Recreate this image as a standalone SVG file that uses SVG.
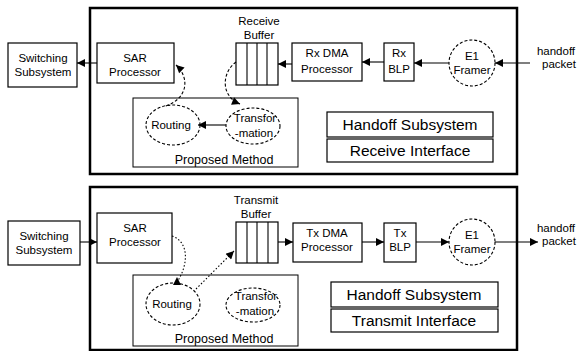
<svg xmlns="http://www.w3.org/2000/svg" width="577" height="351" viewBox="0 0 577 351">
<defs>
<marker id="ah" viewBox="0 0 10 10" refX="10" refY="5" markerWidth="9" markerHeight="8" markerUnits="userSpaceOnUse" orient="auto"><path d="M0,0 L10,5 L0,10 z" fill="#000"/></marker>
</defs>
<style>
text{font-family:"Liberation Sans",Arial,sans-serif;fill:#000;text-anchor:middle}
.s{font-size:11.5px}
.m{font-size:12.5px}
.l{font-size:15.5px}
.box{fill:#fff;stroke:#000;stroke-width:1.2}
.outer{fill:none;stroke:#000;stroke-width:2.5}
.pm{fill:none;stroke:#000;stroke-width:1}
.dash{fill:#fff;stroke:#000;stroke-width:1.1;stroke-dasharray:3 2}
.arr{fill:none;stroke:#000;stroke-width:1.1;marker-end:url(#ah)}
.darr{fill:none;stroke:#000;stroke-width:1.1;stroke-dasharray:3 2;marker-end:url(#ah)}
.dot{fill:none;stroke:#000;stroke-width:1.1;stroke-dasharray:1.5 2;marker-end:url(#ah)}
.div{stroke:#000;stroke-width:1.1}
</style>

<!-- TOP PANEL: Receive -->
<g id="rx-panel"><rect class="outer" x="90" y="8" width="427" height="166"/></g>
<g id="rx-proposed"><rect class="pm" x="133" y="98" width="165" height="69"/><text class="m" x="224" y="164">Proposed Method</text></g>
<g id="rx-switching"><rect class="box" x="8" y="43" width="69" height="44"/><text class="s" x="43" y="62">Switching</text><text class="s" x="43" y="76">Subsystem</text></g>
<g id="rx-sar"><rect class="box" x="97" y="43" width="77" height="40"/><text class="s" x="135" y="62">SAR</text><text class="s" x="135" y="76">Processor</text></g>
<g id="rx-buffer"><rect class="box" x="236" y="43" width="42" height="42"/><line class="div" x1="247" y1="43" x2="247" y2="85"/><line class="div" x1="257" y1="43" x2="257" y2="85"/><line class="div" x1="267" y1="43" x2="267" y2="85"/><text class="s" x="259" y="25">Receive</text><text class="s" x="259" y="39">Buffer</text></g>
<g id="rx-dma"><rect class="box" x="292" y="43" width="70" height="38"/><text class="s" x="327" y="57">Rx DMA</text><text class="s" x="327" y="73">Processor</text></g>
<g id="rx-blp"><rect class="box" x="384" y="43" width="30" height="38"/><text class="s" x="399" y="57">Rx</text><text class="s" x="399" y="73">BLP</text></g>
<g id="rx-e1"><circle class="dash" cx="472" cy="63" r="23"/><text class="s" x="472" y="60">E1</text><text class="s" x="472" y="74">Framer</text></g>
<g id="rx-routing"><ellipse class="dash" cx="173" cy="125" rx="27" ry="20"/><text class="s" x="171" y="129">Routing</text></g>
<g id="rx-transform"><ellipse class="dash" cx="253" cy="126" rx="27" ry="18"/><text class="s" x="255" y="122">Transfor</text><text class="s" x="254" y="137">-mation</text></g>
<g id="rx-handoff"><rect class="box" x="327" y="112" width="166" height="25"/><rect class="box" x="327" y="139" width="166" height="23"/><text class="l" x="410" y="130">Handoff Subsystem</text><text class="l" x="410" y="156">Receive Interface</text></g>
<g id="rx-packet"><text class="s" x="556" y="55">handoff</text><text class="s" x="559" y="68">packet</text></g>

<!-- BOTTOM PANEL: Transmit -->
<g id="tx-panel"><rect class="outer" x="90" y="187" width="427" height="163"/></g>
<g id="tx-proposed"><rect class="pm" x="133" y="275" width="165" height="71"/><text class="m" x="224" y="343">Proposed Method</text></g>
<g id="tx-switching"><rect class="box" x="8" y="221" width="72" height="44"/><text class="s" x="44" y="240">Switching</text><text class="s" x="44" y="254">Subsystem</text></g>
<g id="tx-sar"><rect class="box" x="97" y="213" width="75" height="50"/><text class="s" x="135" y="232">SAR</text><text class="s" x="135" y="246">Processor</text></g>
<g id="tx-buffer"><rect class="box" x="236" y="222" width="42" height="41"/><line class="div" x1="247" y1="222" x2="247" y2="263"/><line class="div" x1="257" y1="222" x2="257" y2="263"/><line class="div" x1="268" y1="222" x2="268" y2="263"/><text class="s" x="256" y="204">Transmit</text><text class="s" x="256" y="218">Buffer</text></g>
<g id="tx-dma"><rect class="box" x="293" y="223" width="69" height="39"/><text class="s" x="327" y="237">Tx DMA</text><text class="s" x="327" y="251">Processor</text></g>
<g id="tx-blp"><rect class="box" x="384" y="223" width="32" height="39"/><text class="s" x="400" y="237">Tx</text><text class="s" x="400" y="251">BLP</text></g>
<g id="tx-e1"><circle class="dash" cx="472" cy="242" r="23"/><text class="s" x="472" y="239">E1</text><text class="s" x="472" y="253">Framer</text></g>
<g id="tx-routing"><ellipse class="dash" cx="173" cy="304" rx="27" ry="21"/><text class="s" x="172" y="308">Routing</text></g>
<g id="tx-transform"><ellipse class="dash" cx="253" cy="305" rx="27" ry="17"/><text class="s" x="256" y="300">Transfor</text><text class="s" x="255" y="315">-mation</text></g>
<g id="tx-handoff"><rect class="box" x="331" y="282" width="167" height="25"/><rect class="box" x="331" y="309" width="167" height="23"/><text class="l" x="414" y="300">Handoff Subsystem</text><text class="l" x="414" y="326">Transmit Interface</text></g>
<g id="tx-packet"><text class="s" x="556" y="232">handoff</text><text class="s" x="559" y="245">packet</text></g>

<g id="connectors">
<!-- receive -->
<line class="arr" x1="97" y1="63" x2="77" y2="63"/>
<line class="arr" x1="292" y1="64" x2="278" y2="64"/>
<line class="arr" x1="384" y1="62" x2="362" y2="62"/>
<line class="arr" x1="449" y1="63" x2="414" y2="63"/>
<line class="arr" x1="530" y1="63" x2="495" y2="63"/>
<line class="arr" x1="226" y1="125" x2="198" y2="125"/>
<path class="darr" d="M236,62 C222,72 220,96 240,104"/>
<path class="darr" d="M166,106 C188,98 190,78 176,65"/>
<!-- transmit -->
<line class="arr" x1="80" y1="242" x2="97" y2="242"/>
<line class="arr" x1="278" y1="242" x2="293" y2="242"/>
<line class="arr" x1="362" y1="242" x2="384" y2="242"/>
<line class="arr" x1="416" y1="242" x2="449" y2="242"/>
<line class="arr" x1="495" y1="242" x2="538" y2="242"/>
<path fill="none" stroke="#000" stroke-width="1.1" stroke-dasharray="1.5 2" d="M172,236 C190,242 188,266 177,282"/>
<path d="M177,277 L181,285 L173,285 z" fill="#000"/>
<line class="dot" x1="196" y1="289" x2="234" y2="251"/>
</g>
</svg>
